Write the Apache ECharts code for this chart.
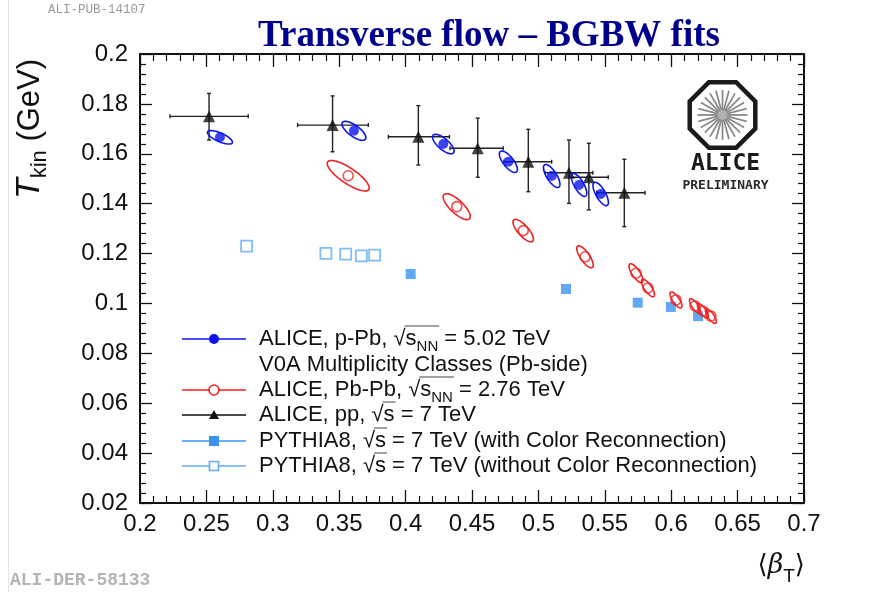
<!DOCTYPE html>
<html>
<head>
<meta charset="utf-8">
<script src="https://cdn.jsdelivr.net/npm/echarts@6/dist/echarts.min.js"></script>
<style>
  html, body { margin: 0; padding: 0; background: #fff; }
  #chart { width: 883px; height: 592px; }
</style>
</head>
<body>
<div id="chart"></div>
<script>
// Axis ranges: [min, max, major interval]
const betaAxis = [0.2, 0.7, 0.05];
const tkinAxis = [0.02, 0.2, 0.02];

// p-Pb 5.02 TeV BGBW fits: [<beta_T>, T_kin, sigma beta, sigma T, correlation]
const pPbFits = [
  [0.2602, 0.1666, 0.0094, 0.0027, -0.72],
  [0.3611, 0.1692, 0.0090, 0.0038, -0.72],
  [0.4284, 0.1639, 0.0081, 0.0039, -0.72],
  [0.4774, 0.1568, 0.0068, 0.0043, -0.72],
  [0.5100, 0.1511, 0.0062, 0.0046, -0.72],
  [0.5306, 0.1475, 0.0058, 0.0046, -0.72],
  [0.5469, 0.1439, 0.0058, 0.0047, -0.72]
];

// Pb-Pb 2.76 TeV BGBW fits: [<beta_T>, T_kin, sigma beta, sigma T, correlation]
const PbPbFits = [
  [0.3568, 0.1512, 0.0158, 0.0061, -0.8],
  [0.4385, 0.1388, 0.0102, 0.0052, -0.76],
  [0.4886, 0.1292, 0.0077, 0.0045, -0.76],
  [0.5351, 0.1187, 0.0062, 0.0044, -0.76],
  [0.5735, 0.1121, 0.0053, 0.0038, -0.76],
  [0.5825, 0.1062, 0.0049, 0.0035, -0.76],
  [0.6036, 0.1014, 0.0045, 0.0032, -0.76],
  [0.6179, 0.0990, 0.0041, 0.0029, -0.76],
  [0.6239, 0.0970, 0.0041, 0.0029, -0.76],
  [0.6299, 0.0949, 0.0041, 0.0029, -0.76]
];

// pp 7 TeV: [<beta_T>, T_kin, beta low, beta high, T low, T high]
const ppFits = [
  [0.2520, 0.1750, 0.2226, 0.2815, 0.1655, 0.1842],
  [0.3450, 0.1715, 0.3187, 0.3719, 0.1608, 0.1832],
  [0.4096, 0.1668, 0.3870, 0.4330, 0.1555, 0.1793],
  [0.4543, 0.1622, 0.4334, 0.4735, 0.1506, 0.1743],
  [0.4924, 0.1568, 0.4740, 0.5100, 0.1448, 0.1698],
  [0.5230, 0.1524, 0.5050, 0.5410, 0.1401, 0.1655],
  [0.5380, 0.1506, 0.5230, 0.5526, 0.1375, 0.1642],
  [0.5647, 0.1444, 0.5439, 0.5803, 0.1308, 0.1578]
];

// PYTHIA8 7 TeV with colour reconnection: [<beta_T>, T_kin]
const pythiaCR = [
  [0.4038, 0.1118],
  [0.5208, 0.1058],
  [0.5748, 0.1003],
  [0.5998, 0.0986],
  [0.6202, 0.0949]
];

// PYTHIA8 7 TeV without colour reconnection: [<beta_T>, T_kin]
const pythiaNoCR = [
  [0.2803, 0.1230],
  [0.3400, 0.1201],
  [0.3549, 0.1198],
  [0.3667, 0.1191],
  [0.3767, 0.1194]
];

const BLUE = '#0a14f0';
const RED = '#f02020';
const BLACK = '#111111';
const AZURE = '#3a92f2';
const AZURE_OPEN = '#62acf6';
const FONT = '"Liberation Sans", Arial, Helvetica, sans-serif';
const LEG_SIZE = 22;
const SUB_SIZE = 15;

// Covariance ellipse drawn through the axis scales
function ellipseRenderer(color) {
  return function (params, api) {
    const cx = api.value(0), cy = api.value(1);
    const sx = api.value(2), sy = api.value(3), rho = api.value(4);
    const k = Math.sqrt(1 - rho * rho);
    const pts = [];
    for (let i = 0; i < 72; i++) {
      const t = i / 72 * Math.PI * 2;
      pts.push(api.coord([cx + sx * Math.cos(t), cy + sy * (rho * Math.cos(t) + k * Math.sin(t))]));
    }
    return { type: 'polygon', shape: { points: pts }, style: { fill: 'none', stroke: color, lineWidth: 1.6 } };
  };
}

// Horizontal and vertical error bars with short end caps
function errorBarRenderer(params, api) {
  const c = api.coord([api.value(0), api.value(1)]);
  const xl = api.coord([api.value(2), api.value(1)]);
  const xh = api.coord([api.value(3), api.value(1)]);
  const yl = api.coord([api.value(0), api.value(4)]);
  const yh = api.coord([api.value(0), api.value(5)]);
  const cap = 2;
  const st = { stroke: '#222', lineWidth: 1.4 };
  const seg = (x1, y1, x2, y2) => ({ type: 'line', shape: { x1, y1, x2, y2 }, style: st });
  return {
    type: 'group',
    children: [
      seg(xl[0], c[1], xh[0], c[1]),
      seg(c[0], yl[1], c[0], yh[1]),
      seg(xl[0], c[1] - cap, xl[0], c[1] + cap),
      seg(xh[0], c[1] - cap, xh[0], c[1] + cap),
      seg(c[0] - cap, yl[1], c[0] + cap, yl[1]),
      seg(c[0] - cap, yh[1], c[0] + cap, yh[1])
    ]
  };
}

function frameAxis(pos, isX, range, showLabel) {
  return {
    type: 'value',
    position: pos,
    min: range[0], max: range[1], interval: range[2],
    axisLine: { show: true, onZero: false, lineStyle: { color: BLACK, width: 2 } },
    axisTick: { show: true, inside: true, length: isX ? 13 : 12, lineStyle: { color: BLACK, width: 1.3 } },
    minorTick: { show: true, splitNumber: 5, length: isX ? 7 : 6, lineStyle: { color: BLACK, width: 1.2 } },
    splitLine: { show: false },
    minorSplitLine: { show: false },
    axisLabel: {
      show: showLabel, color: BLACK, fontFamily: FONT, fontSize: 24,
      margin: isX ? 9 : 12
    }
  };
}

// text width helper for placing the radical overline
const measureCtx = document.createElement('canvas').getContext('2d');
function textWidth(str, size) {
  measureCtx.font = size + 'px ' + FONT;
  return measureCtx.measureText(str).width;
}

const legendRich = {
  m: { fontFamily: FONT, fontSize: LEG_SIZE, lineHeight: 30, fill: BLACK },
  s: { fontFamily: FONT, fontSize: SUB_SIZE, verticalAlign: 'bottom', lineHeight: 15, fill: BLACK }
};

const legendRows = [
  { y: 339, color: BLUE, marker: 'dot', pre: 'ALICE, p-Pb, √', rad: 's', sub: 'NN', post: ' = 5.02 TeV' },
  { y: 365, color: null, marker: null, pre: 'V0A Multiplicity Classes (Pb-side)' },
  { y: 390, color: RED, marker: 'ring', pre: 'ALICE, Pb-Pb, √', rad: 's', sub: 'NN', post: ' = 2.76 TeV' },
  { y: 415, color: BLACK, marker: 'tri', pre: 'ALICE, pp, √', rad: 's', post: ' = 7 TeV' },
  { y: 441, color: AZURE, marker: 'sq', pre: 'PYTHIA8, √', rad: 's', post: ' = 7 TeV (with Color Reconnection)' },
  { y: 466, color: AZURE_OPEN, marker: 'osq', pre: 'PYTHIA8, √', rad: 's', post: ' = 7 TeV (without Color Reconnection)' }
];

const graphics = [];
// slide edge
graphics.push({ type: 'line', shape: { x1: 8.5, y1: 0, x2: 8.5, y2: 592 }, style: { stroke: '#e2e2e2', lineWidth: 1 } });

const TX = 259;
legendRows.forEach(r => {
  const mx = 214;
  if (r.color) {
    graphics.push({ type: 'line', shape: { x1: 182, y1: r.y, x2: 246, y2: r.y }, style: { stroke: r.color, lineWidth: 1.6 } });
    if (r.marker === 'dot') graphics.push({ type: 'circle', shape: { cx: mx, cy: r.y, r: 5 }, style: { fill: r.color } });
    if (r.marker === 'ring') graphics.push({ type: 'circle', shape: { cx: mx, cy: r.y, r: 5 }, style: { fill: '#fff', stroke: r.color, lineWidth: 1.6 } });
    if (r.marker === 'tri') graphics.push({ type: 'polygon', shape: { points: [[mx, r.y - 5], [mx - 5, r.y + 4], [mx + 5, r.y + 4]] }, style: { fill: r.color } });
    if (r.marker === 'sq') graphics.push({ type: 'rect', shape: { x: mx - 5, y: r.y - 5, width: 10, height: 10 }, style: { fill: r.color } });
    if (r.marker === 'osq') graphics.push({ type: 'rect', shape: { x: mx - 4.5, y: r.y - 4.5, width: 9, height: 9 }, style: { fill: '#fff', stroke: r.color, lineWidth: 1.6 } });
  }
  let txt = '{m|' + r.pre + '}';
  if (r.rad) {
    txt += '{m|' + r.rad + '}';
    if (r.sub) txt += '{s|' + r.sub + '}';
    txt += '{m|' + r.post + '}';
    const x0 = TX + textWidth(r.pre, LEG_SIZE) - 1;
    const x1 = TX + textWidth(r.pre + r.rad, LEG_SIZE) + (r.sub ? textWidth(r.sub, SUB_SIZE) : 0) + 1;
    graphics.push({ type: 'line', shape: { x1: x0, y1: r.y - 13, x2: x1, y2: r.y - 13 }, style: { stroke: '#444', lineWidth: 1 } });
  }
  graphics.push({
    type: 'text', x: TX, y: r.y,
    style: { text: txt, rich: legendRich, verticalAlign: 'middle', align: 'left' }
  });
});

// ALICE logo
const LX = 722.5, LY = 115;
const oct = [];
for (let i = 0; i < 8; i++) {
  const a = (22.5 + 45 * i) * Math.PI / 180;
  oct.push([LX + 35.5 * Math.cos(a), LY + 35.5 * Math.sin(a)]);
}
graphics.push({ type: 'polygon', shape: { points: oct }, style: { fill: '#fff', stroke: '#1a1a1a', lineWidth: 4.5 } });
for (let i = 0; i < 24; i++) {
  const a = i * Math.PI / 12;
  graphics.push({
    type: 'line',
    shape: { x1: LX + 4 * Math.cos(a), y1: LY + 4 * Math.sin(a), x2: LX + 25 * Math.cos(a), y2: LY + 25 * Math.sin(a) },
    style: { stroke: '#8a8a8a', lineWidth: 1.8 }
  });
}
graphics.push({ type: 'circle', shape: { cx: LX, cy: LY, r: 5 }, style: { fill: '#b0b0b0' } });
graphics.push({ type: 'text', x: LX + 3, y: 164, style: { text: 'ALICE', font: 'bold 23px "DejaVu Sans Mono", monospace', fill: '#1a1a1a', align: 'center', verticalAlign: 'middle' } });
graphics.push({ type: 'text', x: LX + 3, y: 186, style: { text: 'PRELIMINARY', font: 'bold 13px "DejaVu Sans Mono", monospace', fill: '#2a2a2a', align: 'center', verticalAlign: 'middle' } });

// Title and notes
graphics.push({ type: 'text', x: 489, y: 36, style: { text: 'Transverse flow – BGBW fits', font: 'bold 37px "Liberation Serif", "Times New Roman", serif', fill: '#00008f', align: 'center', verticalAlign: 'middle' } });
graphics.push({ type: 'text', x: 48, y: 10, style: { text: 'ALI-PUB-14107', font: '12.5px "Liberation Mono", "Courier New", monospace', fill: '#9a9a9a', align: 'left', verticalAlign: 'middle' } });
graphics.push({ type: 'text', x: 10, y: 580, style: { text: 'ALI-DER-58133', font: 'bold 18px "Liberation Mono", "Courier New", monospace', fill: '#b4b4b4', align: 'left', verticalAlign: 'middle' } });

// Axis titles
graphics.push({
  type: 'text', x: 30, y: 129, rotation: Math.PI / 2,
  style: {
    text: '{t|T}{k|kin}{g| (GeV)}', align: 'center', verticalAlign: 'middle',
    rich: {
      t: { fontFamily: FONT, fontStyle: 'italic', fontSize: 34, lineHeight: 42, fill: BLACK },
      k: { fontFamily: FONT, fontSize: 22, lineHeight: 22, verticalAlign: 'bottom', fill: BLACK },
      g: { fontFamily: FONT, fontSize: 31, lineHeight: 42, fill: BLACK }
    }
  }
});
graphics.push({
  type: 'text', x: 805, y: 566,
  style: {
    text: '{b|⟨}{i|β}{s|T}{b|⟩}', align: 'right', verticalAlign: 'middle',
    rich: {
      b: { fontFamily: '"DejaVu Sans", sans-serif', fontSize: 26, lineHeight: 40, fill: BLACK },
      i: { fontFamily: '"DejaVu Serif", serif', fontStyle: 'italic', fontSize: 27, lineHeight: 40, fill: BLACK },
      s: { fontFamily: FONT, fontSize: 19, lineHeight: 19, verticalAlign: 'bottom', fill: BLACK }
    }
  }
});

const chart = echarts.init(document.getElementById('chart'), null, { renderer: 'canvas' });
chart.setOption({
  animation: false,
  backgroundColor: '#ffffff',
  grid: { left: 140, right: 79, top: 54, bottom: 89, containLabel: false },
  xAxis: [frameAxis('bottom', true, betaAxis, true), frameAxis('top', true, betaAxis, false)],
  yAxis: [frameAxis('left', false, tkinAxis, true), frameAxis('right', false, tkinAxis, false)],
  series: [
    { name: 'PYTHIA8 no CR', type: 'scatter', data: pythiaNoCR, symbol: 'rect', symbolSize: 11,
      itemStyle: { color: '#fff', borderColor: AZURE_OPEN, borderWidth: 1.8 }, z: 3 },
    { name: 'PYTHIA8 CR', type: 'scatter', data: pythiaCR, symbol: 'rect', symbolSize: 10,
      itemStyle: { color: AZURE }, z: 3 },
    { name: 'Pb-Pb ellipses', type: 'custom', data: PbPbFits, renderItem: ellipseRenderer(RED),
      encode: { x: 0, y: 1 }, z: 4 },
    { name: 'Pb-Pb', type: 'scatter', data: PbPbFits.map(d => [d[0], d[1]]), symbol: 'circle', symbolSize: 10,
      itemStyle: { color: 'rgba(0,0,0,0)', borderColor: RED, borderWidth: 1.6 }, z: 5 },
    { name: 'pp errors', type: 'custom', data: ppFits, renderItem: errorBarRenderer,
      encode: { x: 0, y: 1 }, z: 4 },
    { name: 'pp', type: 'scatter', data: ppFits.map(d => [d[0], d[1]]), symbol: 'triangle', symbolSize: 12,
      itemStyle: { color: BLACK }, z: 5 },
    { name: 'p-Pb ellipses', type: 'custom', data: pPbFits, renderItem: ellipseRenderer(BLUE),
      encode: { x: 0, y: 1 }, z: 6 },
    { name: 'p-Pb', type: 'scatter', data: pPbFits.map(d => [d[0], d[1]]), symbol: 'circle', symbolSize: 10,
      itemStyle: { color: BLUE }, z: 7 }
  ],
  graphic: { elements: graphics }
});
</script>
</body>
</html>
